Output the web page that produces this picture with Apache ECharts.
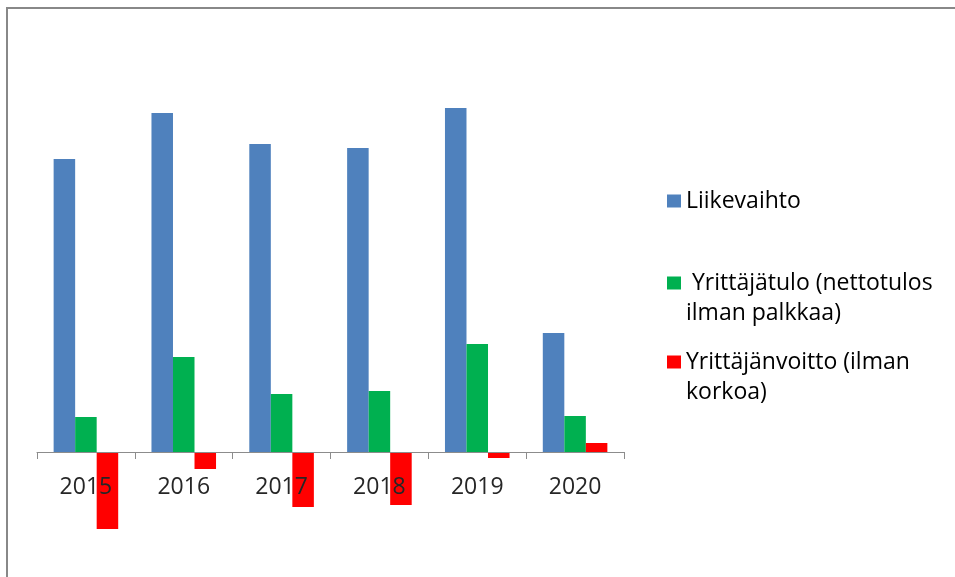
<!DOCTYPE html>
<html>
<head>
<meta charset="utf-8">
<script src="https://cdn.jsdelivr.net/npm/echarts@6/dist/echarts.min.js"></script>
<style>
  html, body { margin: 0; padding: 0; background: #fff; }
  #frame {
    position: absolute; left: 6px; top: 7px; right: -10px; bottom: -10px;
    border-top: 2px solid #888; border-left: 2px solid #888;
  }
  #chart { position: absolute; left: 0; top: 0; width: 955px; height: 577px; }
</style>
</head>
<body>
<div id="frame"></div>
<div id="chart"></div>
<script>
  var years = ["2015", "2016", "2017", "2018", "2019", "2020"];
  var liikevaihto = [293, 339, 308, 304, 344, 119];
  var yrittajatulo = [35, 95, 58, 61, 108, 36];
  var yrittajanvoitto = [-77, -17, -55, -53, -6, 9];

  var names = ["Liikevaihto", " Yrittäjätulo (nettotulos", "Yrittäjänvoitto (ilman"];
  var secondLines = ["", "ilman palkkaa)", "korkoa)"];

  var chartDom = document.getElementById("chart");
  var myChart = echarts.init(chartDom);
  var option;

  function legendFor(i, top) {
    return {
      data: [names[i]],
      left: 667,
      top: top,
      padding: 0,
      itemWidth: 14,
      itemHeight: 13,
      icon: "rect",
      selectedMode: false,
      formatter: function (name) {
        var second = secondLines[names.indexOf(name)];
        return second ? "\n" + name + "\n" + second : name;
      },
      textStyle: {
        fontFamily: "Open Sans",
        fontSize: 23,
        lineHeight: 30,
        color: "#000",
      },
    };
  }

  option = {
    animation: false,
    grid: { left: 37, top: 52, width: 587, height: 500, outerBoundsMode: "none", containLabel: false },
    legend: [legendFor(0, 186), legendFor(1, 238), legendFor(2, 317)],
    xAxis: {
      type: "category",
      data: years,
      position: "bottom",
      offset: -100,
      z: 5,
      axisLine: { onZero: false, lineStyle: { color: "#8c8c8c", width: 1 } },
      axisTick: { show: true, alignWithLabel: false, interval: 0, length: 7, lineStyle: { color: "#8c8c8c", width: 1 } },
      axisLabel: {
        margin: 24,
        fontFamily: "Open Sans",
        fontSize: 23,
        color: "#262626",
      },
    },
    yAxis: {
      type: "value",
      min: -100,
      max: 400,
      show: false,
      splitLine: { show: false },
    },
    series: [
      {
        name: names[0],
        type: "bar",
        data: liikevaihto,
        barGap: "0%",
        barCategoryGap: "34%",
        itemStyle: { color: "#4F81BD" },
      },
      {
        name: names[1],
        type: "bar",
        data: yrittajatulo,
        itemStyle: { color: "#00B050" },
      },
      {
        name: names[2],
        type: "bar",
        data: yrittajanvoitto,
        itemStyle: { color: "#FF0000" },
      },
    ],
  };

  option && myChart.setOption(option);
</script>
</body>
</html>
